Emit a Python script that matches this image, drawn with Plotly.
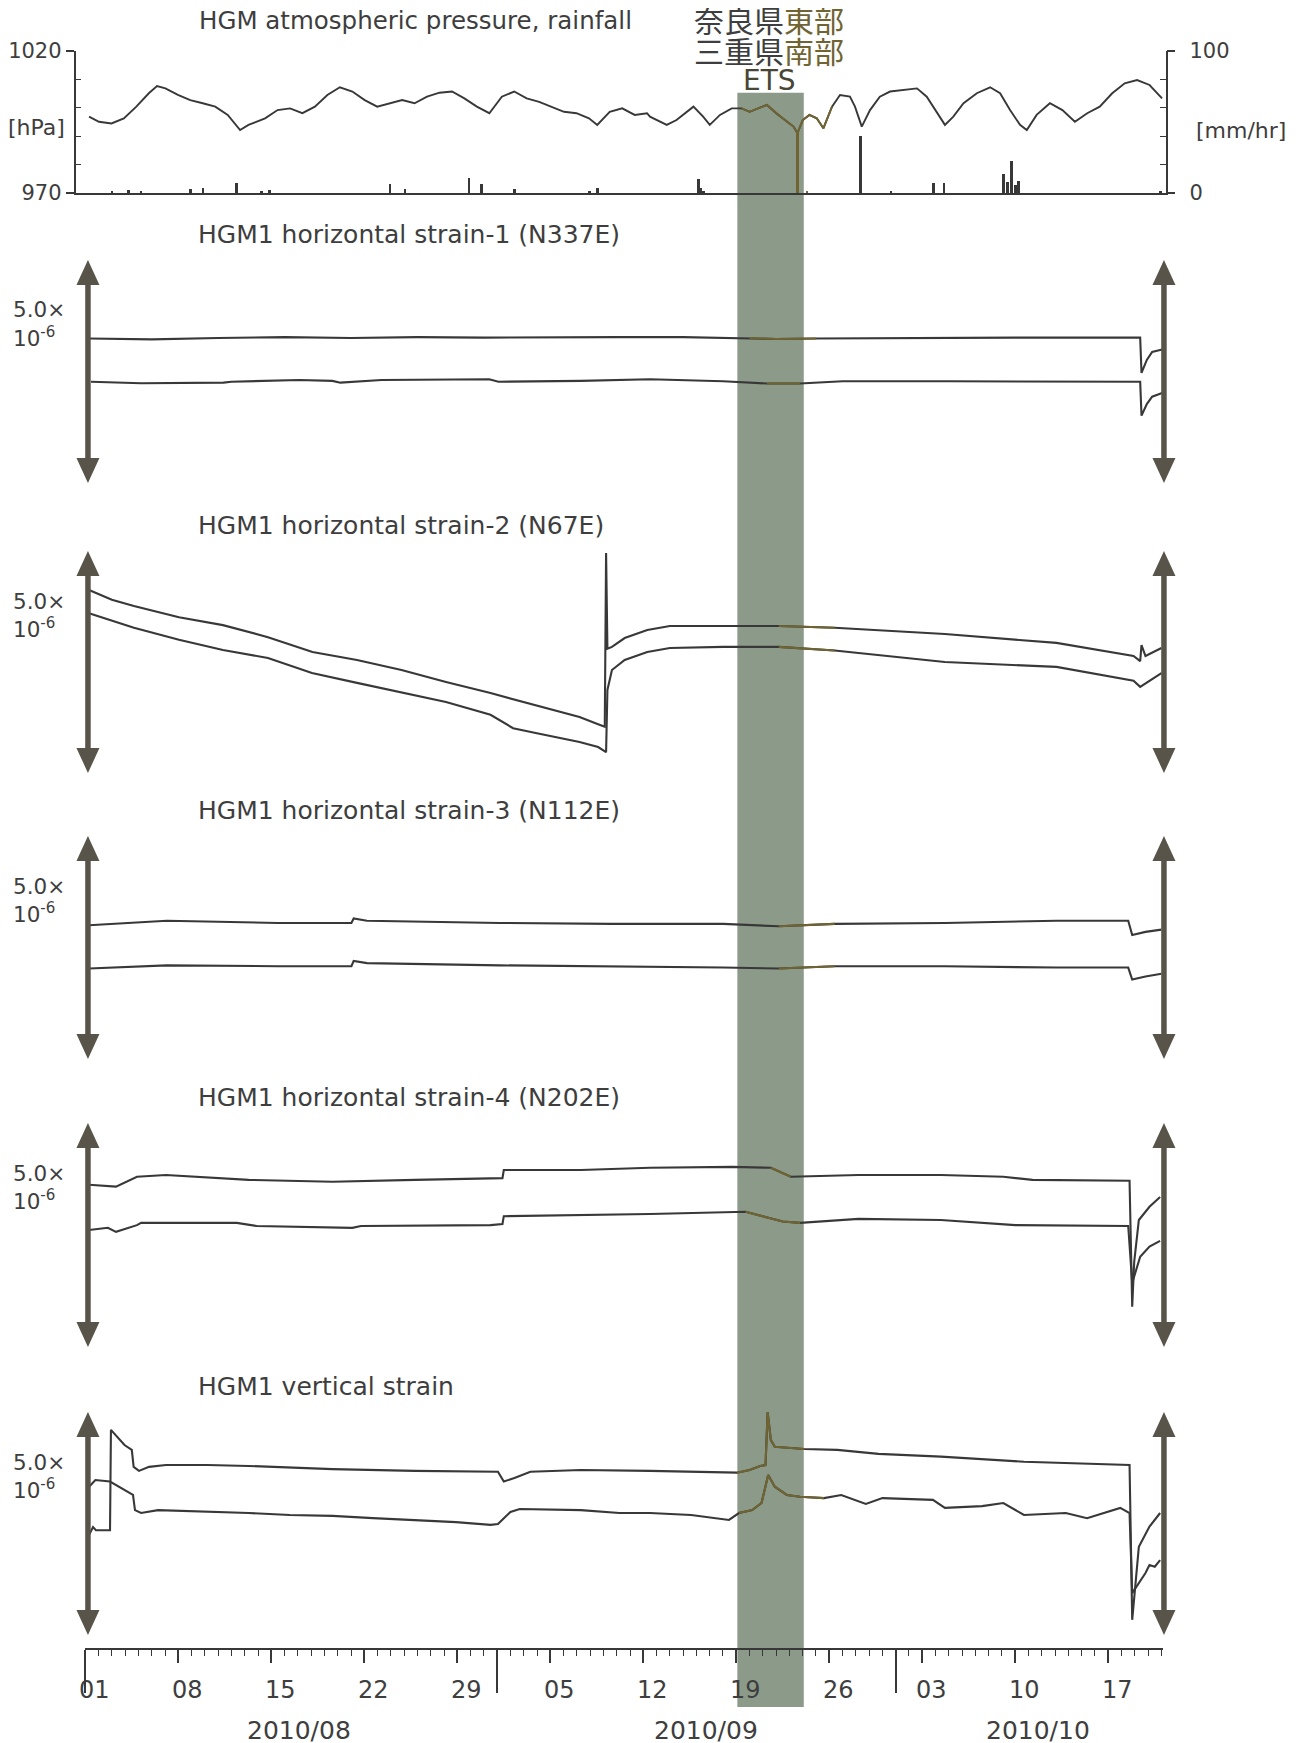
import plotly.graph_objects as go
import pandas as pd

# page has an 8px body margin: figure is placed at (8, 8) inside a 1302x1743 window
OFF = 8
W, H = 1302 - OFF, 1743 - OFF
BASE = pd.Timestamp("2010-08-01")

LINE = "#383838"
OLIVE = "#6f6432"
ARROW = "#59544a"
BAND = "#8c9b89"
TEXT = "#3e3e3e"
FONT = "DejaVu Sans"
CJK = "Noto Sans CJK JP"

# ---------------- data (days since 2010-08-01 00:00) ----------------
press_day = [0.28, 1.03, 1.97, 2.9, 3.84, 4.78, 5.4, 6.03, 6.97, 7.9, 8.84, 9.78, 10.72, 11.65, 12.28,
             13.53, 14.47, 15.41, 16.34, 17.28, 18.22, 19.16, 20.1, 21.03, 21.97, 22.91, 23.85, 24.78,
             25.72, 26.66, 27.6, 28.53, 29.47, 30.41, 31.35, 32.28, 33.22, 34.16, 35.1, 36.03, 36.97,
             37.91, 38.53, 39.47, 40.41, 41.35, 42.28,
             42.5, 43.76, 44.5, 45.77, 46.5, 47.0, 47.77, 48.65, 49.4, 50.0, 51.3, 52.0, 52.8, 53.3, 53.6,
             54.0, 54.5, 55.05, 55.55, 56.2, 56.8, 57.55, 57.93, 58.44, 59.06, 59.8, 60.57, 61.57, 62.6,
             63.33, 64.1, 64.7, 65.33, 66.1, 67.1, 68.1, 68.85, 69.6, 70.35, 70.86, 71.6, 72.6,
             73.54, 74.48, 75.41, 76.35, 77.29, 78.23, 79.16, 80.1, 81.04]
press_hpa = [996.8, 995.0, 994.4, 996.2, 1000.3, 1005.0, 1007.5, 1006.7, 1004.4, 1002.6, 1001.5, 1000.3,
             997.4, 992.1, 993.9, 996.2, 999.1, 999.7, 998.0, 1000.3, 1004.4, 1007.1, 1005.6, 1002.6,
             1000.3, 1001.5, 1002.6, 1001.5, 1003.8, 1005.2, 1005.6, 1003.2, 1000.3, 998.0, 1003.8,
             1005.6, 1003.2, 1002.0, 1000.3, 998.5, 998.0, 996.2, 993.9, 998.5, 999.7, 997.4, 998.0,
             996.8, 993.9, 995.6, 1000.3, 996.8, 993.9, 997.4, 999.7, 999.7, 998.5, 1000.9, 998.0, 995.0,
             993.3, 991.0, 995.6, 997.4, 996.2, 992.7, 1000.3, 1004.4, 1003.8, 1000.3, 993.3, 999.1,
             1003.8, 1005.6, 1006.1, 1006.7, 1003.8, 998.0, 993.9, 996.8, 1001.5, 1005.0, 1007.1, 1005.0,
             999.1, 993.9, 992.1, 997.4, 1001.5,
             999.1, 995.0, 998.0, 1000.3, 1005.0, 1008.5, 1009.65, 1007.9, 1003.2]

rain_day = [1.97, 3.22, 4.15, 7.9, 8.84, 11.34, 13.22, 13.84, 22.91, 24.03, 28.85, 29.78, 32.28, 37.91,
            38.53, 46.1, 46.3, 46.5, 53.55, 54.3, 58.3, 60.6, 63.8, 64.6, 69.1, 69.4, 69.7, 70.0, 70.2, 80.9]
rain_mm = [1.8, 2.2, 1.8, 3.0, 4.1, 7.6, 1.8, 2.2, 6.9, 3.0, 11.1, 6.5, 3.0, 1.8, 4.1, 10.0, 4.0, 2.0,
           42.8, 1.5, 40.5, 2.0, 7.6, 7.6, 13.5, 8.0, 22.9, 6.0, 8.8, 1.5]

# strain in units of 1e-6 (relative; arrow = 5.0e-6)
s1_up_day = [0.3, 5, 10, 15, 20, 25, 30, 35, 40, 45, 50, 52, 55, 60, 70, 79.4, 79.5, 79.9, 80.3, 80.9, 81.05]
s1_up_val = [3.24, 3.22, 3.25, 3.27, 3.25, 3.27, 3.26, 3.27, 3.27, 3.27, 3.25, 3.23, 3.24, 3.25, 3.26,
             3.26, 2.47, 2.76, 2.94, 2.98, 2.99]
s1_lo_day = [0.43, 4.2, 10.4, 11.0, 16.1, 18.6, 19.2, 22.3, 30.4, 31.1, 37.3, 42.5, 48.0, 51.3, 53.8,
             57.0, 65.0, 79.4, 79.5, 79.9, 80.3, 80.9, 81.05]
s1_lo_val = [2.27, 2.235, 2.25, 2.27, 2.31, 2.29, 2.25, 2.31, 2.325, 2.27, 2.29, 2.325, 2.28, 2.23, 2.23,
             2.28, 2.28, 2.27, 1.51, 1.77, 1.935, 2.0, 2.02]

s2_up_day = [0.28, 2.0, 3.66, 7.05, 10.36, 13.75, 17.1, 20.45, 23.8, 27.15, 30.5, 33.9, 37.2, 38.6, 39.1,
             39.2, 39.3, 39.64, 40.6, 42.3, 44.0, 48.0, 52.2, 56.4, 64.7, 73.1, 78.9, 79.4, 79.5, 79.8, 81.0]
s2_up_val = [4.12, 3.90, 3.76, 3.51, 3.33, 3.06, 2.725, 2.545, 2.32, 2.05, 1.80, 1.53, 1.26, 1.10, 1.04,
             4.955, 2.80, 2.84, 3.04, 3.22, 3.31, 3.31, 3.31, 3.27, 3.13, 2.93, 2.635, 2.52, 2.88, 2.635, 2.815]
s2_lo_day = [0.28, 3.66, 7.05, 10.36, 13.75, 17.06, 20.45, 23.8, 27.15, 30.5, 32.2, 33.9, 37.2, 38.6, 39.0,
             39.2, 39.3, 39.64, 40.6, 42.3, 44.0, 48.0, 52.2, 56.4, 64.7, 73.1, 78.9, 79.4, 81.0]
s2_lo_val = [3.60, 3.27, 3.0, 2.77, 2.59, 2.25, 2.03, 1.82, 1.60, 1.31, 1.01, 0.90, 0.70, 0.585, 0.52,
             0.47, 1.87, 2.32, 2.545, 2.725, 2.815, 2.84, 2.84, 2.76, 2.50, 2.39, 2.08, 1.94, 2.25]

s3_day = [0.28, 6.13, 14.5, 20.03, 20.2, 21.2, 31.2, 39.6, 48.0, 52.2, 56.4, 64.7, 73.1, 78.5, 78.8, 79.8, 81.0]
s3_up_val = [3.00, 3.10, 3.05, 3.05, 3.15, 3.10, 3.05, 3.03, 3.03, 2.975, 3.03, 3.05, 3.10, 3.10, 2.78, 2.85, 2.90]
s3_lo_val = [2.03, 2.10, 2.08, 2.08, 2.20, 2.15, 2.10, 2.08, 2.05, 2.03, 2.08, 2.08, 2.05, 2.05, 1.78, 1.85, 1.91]

s4_up_day = [0.28, 2.31, 3.89, 6.07, 12.3, 18.6, 24.8, 31.4, 31.5, 37.3, 42.5, 48.7, 51.6, 53.1, 58.2,
             64.4, 69.1, 71.3, 78.6, 78.8, 78.95, 79.3, 80.1, 80.9]
s4_up_val = [3.62, 3.58, 3.80, 3.84, 3.73, 3.69, 3.73, 3.77, 3.95, 3.95, 4.0, 4.02, 4.0, 3.80, 3.84,
             3.84, 3.80, 3.73, 3.71, 0.90, 1.9, 2.835, 3.13, 3.35]
s4_lo_day = [0.28, 1.7, 2.31, 3.89, 4.2, 11.4, 12.9, 20.1, 20.75, 30.5, 31.4, 31.5, 42.5, 48.75, 49.7,
             52.5, 53.8, 58.2, 64.4, 70.0, 78.5, 78.8, 79.4, 80.1, 80.9]
s4_lo_val = [2.61, 2.66, 2.57, 2.72, 2.77, 2.77, 2.70, 2.66, 2.70, 2.72, 2.745, 2.92, 2.97, 3.02, 3.02,
             2.80, 2.77, 2.86, 2.835, 2.72, 2.70, 1.43, 2.015, 2.24, 2.37]

va_day = [0.28, 0.58, 0.8, 1.86, 1.93, 2.95, 3.5, 3.64, 4.04, 4.8, 6.07, 9.2, 12.3, 18.6, 24.8, 31.06,
          31.5, 32.3, 33.5, 37.3, 42.5, 49.05, 50.0, 50.8, 51.2, 51.36, 51.6, 51.9, 54.1, 56.6, 59.7, 64.4,
          70.65, 78.6, 78.8, 79.3, 80.1, 80.9]
va_val = [2.24, 2.42, 2.35, 2.35, 4.60, 4.26, 4.15, 3.77, 3.68, 3.77, 3.81, 3.81, 3.79, 3.72, 3.68, 3.66,
          3.44, 3.52, 3.66, 3.70, 3.68, 3.64, 3.70, 3.79, 3.81, 5.0, 4.37, 4.22, 4.17, 4.15, 4.06, 4.0,
          3.885, 3.81, 0.34, 1.98, 2.43, 2.735]
vb_day = [0.28, 0.76, 1.86, 2.95, 3.59, 3.74, 4.2, 5.47, 9.2, 12.3, 15.4, 18.6, 21.65, 24.8, 27.9, 30.5,
          31.06, 32.0, 32.7, 37.3, 40.2, 42.5, 45.6, 48.45, 49.2, 50.2, 50.9, 51.4, 51.9, 52.8, 53.8, 55.6,
          56.9, 58.75, 60.0, 63.8, 64.7, 67.5, 69.1, 70.65, 73.8, 75.4, 77.9, 78.6, 78.8, 79.8, 80.1, 80.5, 80.9]
vb_val = [3.325, 3.475, 3.44, 3.25, 3.14, 2.80, 2.735, 2.80, 2.765, 2.735, 2.69, 2.67, 2.62, 2.58, 2.53,
          2.47, 2.49, 2.76, 2.825, 2.80, 2.735, 2.735, 2.69, 2.58, 2.735, 2.80, 2.96, 3.59, 3.325, 3.14,
          3.10, 3.07, 3.14, 2.94, 3.07, 3.03, 2.85, 2.89, 2.96, 2.69, 2.735, 2.62, 2.85, 2.735, 0.94, 1.39,
          1.57, 1.53, 1.68]

panel_titles = ["HGM1 horizontal strain-1 (N337E)", "HGM1 horizontal strain-2 (N67E)",
                "HGM1 horizontal strain-3 (N112E)", "HGM1 horizontal strain-4 (N202E)",
                "HGM1 vertical strain"]

tick_days = [0, 7, 14, 21, 28, 35, 42, 49, 56, 63, 70, 77]
tick_labels = ["01", "08", "15", "22", "29", "05", "12", "19", "26", "03", "10", "17"]
month_days = [0, 31, 61]
month_labels = ["2010/08", "2010/09", "2010/10"]
month_label_days = [16.1, 46.7, 71.7]

ets_start, ets_end = 49.08, 54.08      # 2010-09-19 .. 2010-09-24
tint_start, tint_end = 49.0, 56.5      # scan colour tint around the band


# ---------------- helpers ----------------
def dt(days):
    return [(BASE + pd.Timedelta(days=float(d))).strftime("%Y-%m-%d %H:%M:%S") for d in days]


def px(p):
    return (p - OFF) / W


def py(p):
    return 1 - (p - OFF) / H


def tinted(days, vals):
    d2, v2 = [], []
    for d, v in zip(days, vals):
        if tint_start <= d <= tint_end:
            d2.append(d)
            v2.append(v)
    return d2, v2


fig = go.Figure()


def add_line(days, vals, xa, ya, width=2.0):
    fig.add_trace(go.Scatter(x=dt(days), y=vals, xaxis=xa, yaxis=ya, mode="lines",
                             line=dict(color=LINE, width=width), hoverinfo="skip", showlegend=False))
    d2, v2 = tinted(days, vals)
    if len(d2) > 1:
        fig.add_trace(go.Scatter(x=dt(d2), y=v2, xaxis=xa, yaxis=ya, mode="lines",
                                 line=dict(color=OLIVE, width=width), hoverinfo="skip", showlegend=False))


# ---------------- top panel ----------------
add_line(press_day, press_hpa, "x", "y", 1.9)
fig.add_trace(go.Bar(x=dt(rain_day), y=rain_mm, xaxis="x", yaxis="y2",
                     width=0.2 * 86400000,
                     marker=dict(color=[OLIVE if tint_start <= d <= tint_end else LINE for d in rain_day],
                                 line=dict(width=0)),
                     hoverinfo="skip", showlegend=False))

# ---------------- strain panels ----------------
panels = [
    ((260, 483), [(s1_up_day, s1_up_val), (s1_lo_day, s1_lo_val)]),
    ((551, 773), [(s2_up_day, s2_up_val), (s2_lo_day, s2_lo_val)]),
    ((836, 1059), [(s3_day, s3_up_val), (s3_day, s3_lo_val)]),
    ((1123, 1347), [(s4_up_day, s4_up_val), (s4_lo_day, s4_lo_val)]),
    ((1412, 1635), [(va_day, va_val), (vb_day, vb_val)]),
]

AX = dict(showgrid=False, zeroline=False, fixedrange=True, automargin=False)

layout_axes = {}
shapes = []
annotations = []
PAD = 14
for i, ((top, bot), series) in enumerate(panels):
    yid = i + 3
    ya = f"y{yid}"
    unit = 5.0 / (bot - top)
    layout_axes[f"yaxis{yid}"] = dict(domain=[py(bot + PAD), py(top - PAD)],
                                      range=[-PAD * unit, 5 + PAD * unit],
                                      anchor="x2", visible=False, **AX)
    for d, v in series:
        add_line(d, v, "x2", ya, 2.1)
    # double-headed scale arrows (5.0e-6)
    hl = 25 * unit
    for ad in (0.2, 81.19):
        xd = dt([ad])[0]
        shapes.append(dict(type="line", xref="x2", yref=ya, x0=xd, x1=xd, y0=hl * 0.8, y1=5 - hl * 0.8,
                           line=dict(color=ARROW, width=5.5)))
        shapes.append(dict(type="path", xref="x2", yref=ya, xsizemode="pixel", xanchor=xd,
                           path=f"M-11.5,{5 - hl} L11.5,{5 - hl} L0,5 Z",
                           fillcolor=ARROW, line=dict(width=0)))
        shapes.append(dict(type="path", xref="x2", yref=ya, xsizemode="pixel", xanchor=xd,
                           path=f"M-11.5,{hl} L11.5,{hl} L0,0 Z",
                           fillcolor=ARROW, line=dict(width=0)))
    annotations.append(dict(text=panel_titles[i], xref="paper", yref="paper", x=px(196), y=py(top - 26),
                            xanchor="left", yanchor="middle", showarrow=False,
                            font=dict(size=25, color=TEXT)))
    annotations.append(dict(text="5.0×", xref="paper", yref="paper", x=px(11), y=py(top + 50),
                            xanchor="left", yanchor="middle", showarrow=False,
                            font=dict(size=21.5, color=TEXT)))
    annotations.append(dict(text="10<sup>-6</sup>", xref="paper", yref="paper", x=px(11), y=py(top + 77),
                            xanchor="left", yanchor="middle", showarrow=False,
                            font=dict(size=21.5, color=TEXT)))

# dummy traces for the time axis
fig.add_trace(go.Scatter(x=dt([0, 81.12]), y=[None, None], xaxis="x3", yaxis="y7", mode="lines",
                         hoverinfo="skip", showlegend=False))
fig.add_trace(go.Scatter(x=dt([0, 81.12]), y=[None, None], xaxis="x4", yaxis="y7", mode="lines",
                         hoverinfo="skip", showlegend=False))

# ETS band
shapes.append(dict(type="rect", xref="x3", yref="paper", x0=dt([ets_start])[0], x1=dt([ets_end])[0],
                   y0=py(1707), y1=py(92.7), fillcolor=BAND, line=dict(width=0), layer="below"))

# top panel texts
annotations += [
    dict(text="HGM atmospheric pressure, rainfall", xref="paper", yref="paper", x=px(197), y=py(20),
         xanchor="left", yanchor="middle", showarrow=False, font=dict(size=24.5, color=TEXT)),
    dict(text="[hPa]", xref="paper", yref="paper", x=px(36), y=py(128), xanchor="center", yanchor="middle",
         showarrow=False, font=dict(size=22, color=TEXT)),
    dict(text="[mm/hr]", xref="paper", yref="paper", x=px(1241), y=py(130), xanchor="center",
         yanchor="middle", showarrow=False, font=dict(size=22, color=TEXT)),
    dict(text=f"奈良県<span style='color:{OLIVE}'>東部</span>", xref="paper", yref="paper", x=px(769),
         y=py(19), xanchor="center", yanchor="middle", showarrow=False,
         font=dict(size=30, color=TEXT, family=CJK)),
    dict(text=f"三重県<span style='color:{OLIVE}'>南部</span>", xref="paper", yref="paper", x=px(769),
         y=py(50), xanchor="center", yanchor="middle", showarrow=False,
         font=dict(size=30, color=TEXT, family=CJK)),
    dict(text="ETS", xref="paper", yref="paper", x=px(769), y=py(81), xanchor="center", yanchor="middle",
         showarrow=False, font=dict(size=28, color="#4a4636", family=FONT)),
]
for lab, d in zip(month_labels, month_label_days):
    annotations.append(dict(text=lab, xref="x3", yref="paper", x=dt([d])[0], y=py(1730),
                            xanchor="center", yanchor="middle", showarrow=False,
                            font=dict(size=25, color=TEXT)))

fig.update_layout(
    width=W, height=H, margin=dict(l=0, r=0, t=0, b=0, pad=0), autosize=False,
    paper_bgcolor="white", plot_bgcolor="rgba(0,0,0,0)",
    font=dict(family=FONT, color=TEXT), showlegend=False, bargap=0,
    xaxis=dict(domain=[px(75.6), px(1165.5)], range=dt([-0.73, 81.3]), anchor="y",
               showline=True, linecolor=LINE, linewidth=1.6, ticks="", showticklabels=False, **AX),
    yaxis=dict(domain=[py(193), py(50.5)], range=[970, 1020], anchor="x", side="left",
               showline=True, linecolor=LINE, linewidth=1.6,
               tickvals=[970, 1020], ticks="outside", ticklen=8, tickwidth=1.5, tickcolor=LINE,
               tickfont=dict(size=21, color=TEXT),
               minor=dict(tickvals=[980, 990, 1000, 1010], ticks="inside", ticklen=6, tickwidth=1.3,
                          tickcolor=LINE, showgrid=False), **AX),
    yaxis2=dict(range=[0, 100], overlaying="y", side="right", anchor="x",
                showline=True, linecolor=LINE, linewidth=1.6,
                tickvals=[0, 100], ticks="outside", ticklen=8, tickwidth=1.5, tickcolor=LINE,
                ticklabelstandoff=10, tickfont=dict(size=21, color=TEXT),
                minor=dict(tickvals=[20, 40, 60, 80], ticks="inside", ticklen=6, tickwidth=1.3,
                           tickcolor=LINE, showgrid=False), **AX),
    xaxis2=dict(domain=[px(60), px(1190)], range=dt([-1.904, 83.15]), anchor="y3", visible=False, **AX),
    xaxis3=dict(domain=[px(85.3), px(1163)], range=dt([0, 81.12]), anchor="free", position=py(1649),
                showline=True, linecolor=LINE, linewidth=2,
                tickvals=dt(tick_days), ticktext=tick_labels, ticks="outside", ticklen=13, tickwidth=1.6,
                tickcolor=LINE, tickfont=dict(size=24, color=TEXT), ticklabelshift=9,
                ticklabelstandoff=6,
                minor=dict(tickvals=dt(range(0, 82)), ticks="outside", ticklen=6, tickwidth=1.3,
                           tickcolor=LINE, showgrid=False), **AX),
    xaxis4=dict(domain=[px(85.3), px(1163)], range=dt([0, 81.12]), anchor="free", position=py(1649),
                showline=False, tickvals=dt(month_days), ticks="outside", ticklen=43, tickwidth=2,
                tickcolor=LINE, showticklabels=False, **AX),
    shapes=shapes, annotations=annotations,
    **layout_axes,
)

fig.write_html("out.html")
